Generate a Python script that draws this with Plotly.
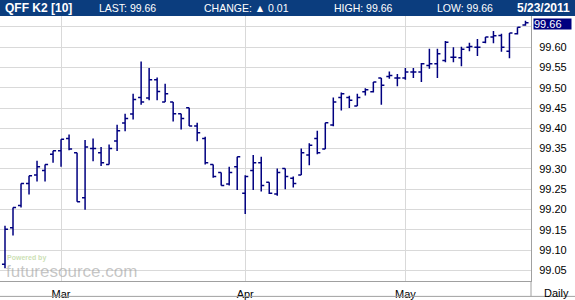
import plotly.graph_objects as go

# Trading dates (Feb 17, 2011 .. May 23, 2011)
dates = [
    "2011-02-17", "2011-02-18", "2011-02-22", "2011-02-23", "2011-02-24", "2011-02-25", "2011-02-28",
    "2011-03-01", "2011-03-02", "2011-03-03", "2011-03-04", "2011-03-07", "2011-03-08", "2011-03-09",
    "2011-03-10", "2011-03-11", "2011-03-14", "2011-03-15", "2011-03-16", "2011-03-17", "2011-03-18",
    "2011-03-21", "2011-03-22", "2011-03-23", "2011-03-24", "2011-03-25", "2011-03-28", "2011-03-29",
    "2011-03-30", "2011-03-31",
    "2011-04-01", "2011-04-04", "2011-04-05", "2011-04-06", "2011-04-07", "2011-04-08", "2011-04-11",
    "2011-04-12", "2011-04-13", "2011-04-14", "2011-04-15", "2011-04-18", "2011-04-19", "2011-04-20",
    "2011-04-21", "2011-04-25", "2011-04-26", "2011-04-27", "2011-04-28", "2011-04-29",
    "2011-05-02", "2011-05-03", "2011-05-04", "2011-05-05", "2011-05-06", "2011-05-09", "2011-05-10",
    "2011-05-11", "2011-05-12", "2011-05-13", "2011-05-16", "2011-05-17", "2011-05-18", "2011-05-19",
    "2011-05-20", "2011-05-23",
]

open_ = [
    99.065, 99.155, 99.210, 99.264, 99.285, 99.296, 99.336,
    99.345, 99.375, 99.340, 99.229, 99.350, 99.340, 99.311,
    99.369, 99.413, 99.435, 99.476, 99.475, 99.520, 99.465,
    99.465, 99.436, 99.451, 99.406, 99.375, 99.311, 99.291,
    99.263, 99.305,
    99.240, 99.296, 99.315, 99.267, 99.238, 99.301, 99.277,
    99.285, 99.334, 99.375, 99.349, 99.408, 99.476, 99.476,
    99.455, 99.490, 99.490, 99.524, 99.528, 99.524,
    99.524, 99.539, 99.539, 99.555, 99.559, 99.567, 99.575,
    99.574, 99.600, 99.600, 99.612, 99.625, 99.629, 99.590,
    99.633, 99.655,
]
high = [
    99.160, 99.205, 99.264, 99.283, 99.320, 99.311, 99.345,
    99.373, 99.385, 99.340, 99.371, 99.375, 99.354, 99.360,
    99.409, 99.436, 99.485, 99.565, 99.549, 99.525, 99.510,
    99.465, 99.436, 99.451, 99.414, 99.379, 99.311, 99.291,
    99.305, 99.330,
    99.284, 99.334, 99.330, 99.267, 99.301, 99.301, 99.281,
    99.350, 99.363, 99.394, 99.414, 99.476, 99.488, 99.480,
    99.485, 99.499, 99.514, 99.524, 99.540, 99.534,
    99.549, 99.549, 99.561, 99.596, 99.596, 99.615, 99.600,
    99.601, 99.611, 99.620, 99.625, 99.640, 99.633, 99.635,
    99.649, 99.665,
]
low = [
    99.055, 99.136, 99.205, 99.237, 99.269, 99.269, 99.315,
    99.305, 99.346, 99.219, 99.199, 99.319, 99.307, 99.311,
    99.344, 99.393, 99.422, 99.458, 99.469, 99.469, 99.465,
    99.417, 99.397, 99.406, 99.368, 99.311, 99.278, 99.259,
    99.259, 99.248,
    99.189, 99.248, 99.244, 99.238, 99.234, 99.250, 99.254,
    99.285, 99.309, 99.336, 99.349, 99.405, 99.444, 99.450,
    99.455, 99.481, 99.488, 99.458, 99.522, 99.504,
    99.520, 99.524, 99.514, 99.547, 99.524, 99.563, 99.563,
    99.553, 99.590, 99.578, 99.610, 99.610, 99.589, 99.573,
    99.631, 99.653,
]
close = [
    99.151, 99.205, 99.264, 99.283, 99.305, 99.311, 99.345,
    99.373, 99.349, 99.219, 99.354, 99.350, 99.315, 99.350,
    99.394, 99.424, 99.471, 99.465, 99.520, 99.491, 99.485,
    99.436, 99.424, 99.406, 99.389, 99.315, 99.281, 99.259,
    99.291, 99.330,
    99.281, 99.315, 99.259, 99.240, 99.291, 99.281, 99.264,
    99.340, 99.358, 99.340, 99.414, 99.465, 99.485, 99.469,
    99.476, 99.495, 99.514, 99.506, 99.530, 99.524,
    99.539, 99.539, 99.559, 99.559, 99.584, 99.612, 99.575,
    99.595, 99.602, 99.600, 99.625, 99.628, 99.600, 99.635,
    99.649, 99.660,
]

month_ticks = ["2011-03-01", "2011-04-01", "2011-05-02"]
month_labels = ["Mar", "Apr", "May"]
price_ticks = [99.05, 99.10, 99.15, 99.20, 99.25, 99.30, 99.35, 99.40, 99.45, 99.50, 99.55, 99.60, 99.65]
# the 99.65 label sits under the last-price tag in the reference
price_labels = ["99.05", "99.10", "99.15", "99.20", "99.25", "99.30", "99.35",
                "99.40", "99.45", "99.50", "99.55", "99.60", ""]

NAVY = "#000080"
HEADER = "#0b3d7e"
GRID = "#d9d9d9"
AXIS = "#a0a0a0"
FONT = "Liberation Sans, Arial, sans-serif"

W, H = 575, 300
ML, MR, MT, MB = 0, 44, 16, 17
PW, PH = W - ML - MR, H - MT - MB

fig = go.Figure(go.Ohlc(
    x=dates, open=open_, high=high, low=low, close=close,
    increasing=dict(line=dict(color=NAVY, width=1.5)),
    decreasing=dict(line=dict(color=NAVY, width=1.5)),
    tickwidth=0.38,
    hoverinfo="skip",
))

n = len(dates)
fig.update_layout(
    width=W, height=H,
    margin=dict(l=ML, r=MR, t=MT, b=MB, pad=0),
    paper_bgcolor="white", plot_bgcolor="white",
    showlegend=False,
    font=dict(family=FONT, size=11, color="black"),
    xaxis=dict(
        type="category",
        range=[-0.625, n - 1 + 0.69],
        rangeslider=dict(visible=False),
        tickmode="array", tickvals=month_ticks, ticktext=month_labels,
        showgrid=True, gridcolor=GRID, gridwidth=1,
        showline=True, linecolor=AXIS, linewidth=1,
        ticks="", ticklabelstandoff=3,
        tickfont=dict(family=FONT, size=11, color="black"),
        zeroline=False, fixedrange=True,
    ),
    yaxis=dict(
        side="right",
        range=[99.0236, 99.6769],
        tickmode="array", tickvals=price_ticks, ticktext=price_labels,
        showgrid=True, gridcolor=GRID, gridwidth=1,
        showline=True, linecolor=AXIS, linewidth=1,
        ticks="", ticklabelstandoff=5,
        tickfont=dict(family=FONT, size=11, color="black"),
        zeroline=False, fixedrange=True,
    ),
)

# header bar and frame lines
hdr_y0 = 1.0
hdr_y1 = 1.0 + MT / PH
full_x1 = W / PW
bottom_y = -(H - 1.5 - (H - MB)) / PH
fig.add_shape(type="rect", xref="paper", yref="paper", x0=0, x1=full_x1, y0=hdr_y0, y1=hdr_y1 + 0.01,
              fillcolor=HEADER, line=dict(width=0), layer="above")
fig.add_shape(type="line", xref="paper", yref="paper", x0=0, x1=full_x1, y0=bottom_y, y1=bottom_y,
              line=dict(color=AXIS, width=1))
fig.add_shape(type="line", xref="paper", yref="paper", x0=1, x1=1, y0=bottom_y, y1=0,
              line=dict(color=AXIS, width=1))

def hdr(text, x, anchor="left", bold=False, size=10.5):
    fig.add_annotation(xref="paper", yref="paper", x=x / PW, y=1 + (MT / 2) / PH,
                       text=f"<b>{text}</b>" if bold else text, showarrow=False,
                       xanchor=anchor, yanchor="middle",
                       font=dict(family=FONT, size=size, color="white"))

hdr("QFF K2 [10]", 3, bold=True, size=12)
hdr("LAST: 99.66", 97)
hdr("CHANGE: \u25b2 0.01", 202)
hdr("HIGH: 99.66", 332)
hdr("LOW: 99.66", 435)
hdr("5/23/2011", 572, anchor="right", bold=True, size=12)

# last price tag
fig.add_annotation(xref="paper", yref="y", x=1 + 1.5 / PW, y=close[-1], yshift=-1.5,
                   text="99.66", showarrow=False, xanchor="left", yanchor="middle",
                   bgcolor=NAVY, width=37, height=10, borderpad=0, align="left",
                   font=dict(family=FONT, size=11, color="white"))

# "Daily" label
fig.add_annotation(xref="paper", yref="paper", x=(W - 4) / PW, y=-(12.5) / PH,
                   text="Daily", showarrow=False, xanchor="right", yanchor="middle",
                   font=dict(family=FONT, size=11, color="black"))

# watermark
fig.add_annotation(xref="paper", yref="paper", x=5 / PW, y=(283 - 260) / PH,
                   text="<b>Powered by</b>", showarrow=False, xanchor="left", yanchor="middle",
                   font=dict(family=FONT, size=7, color="rgba(190,215,160,0.8)"))
fig.add_annotation(xref="paper", yref="paper", x=4 / PW, y=(283 - 273) / PH,
                   text="futuresource.com", showarrow=False, xanchor="left", yanchor="middle",
                   font=dict(family=FONT, size=17, color="rgba(160,160,160,0.6)"))

fig.write_html("out.html")
